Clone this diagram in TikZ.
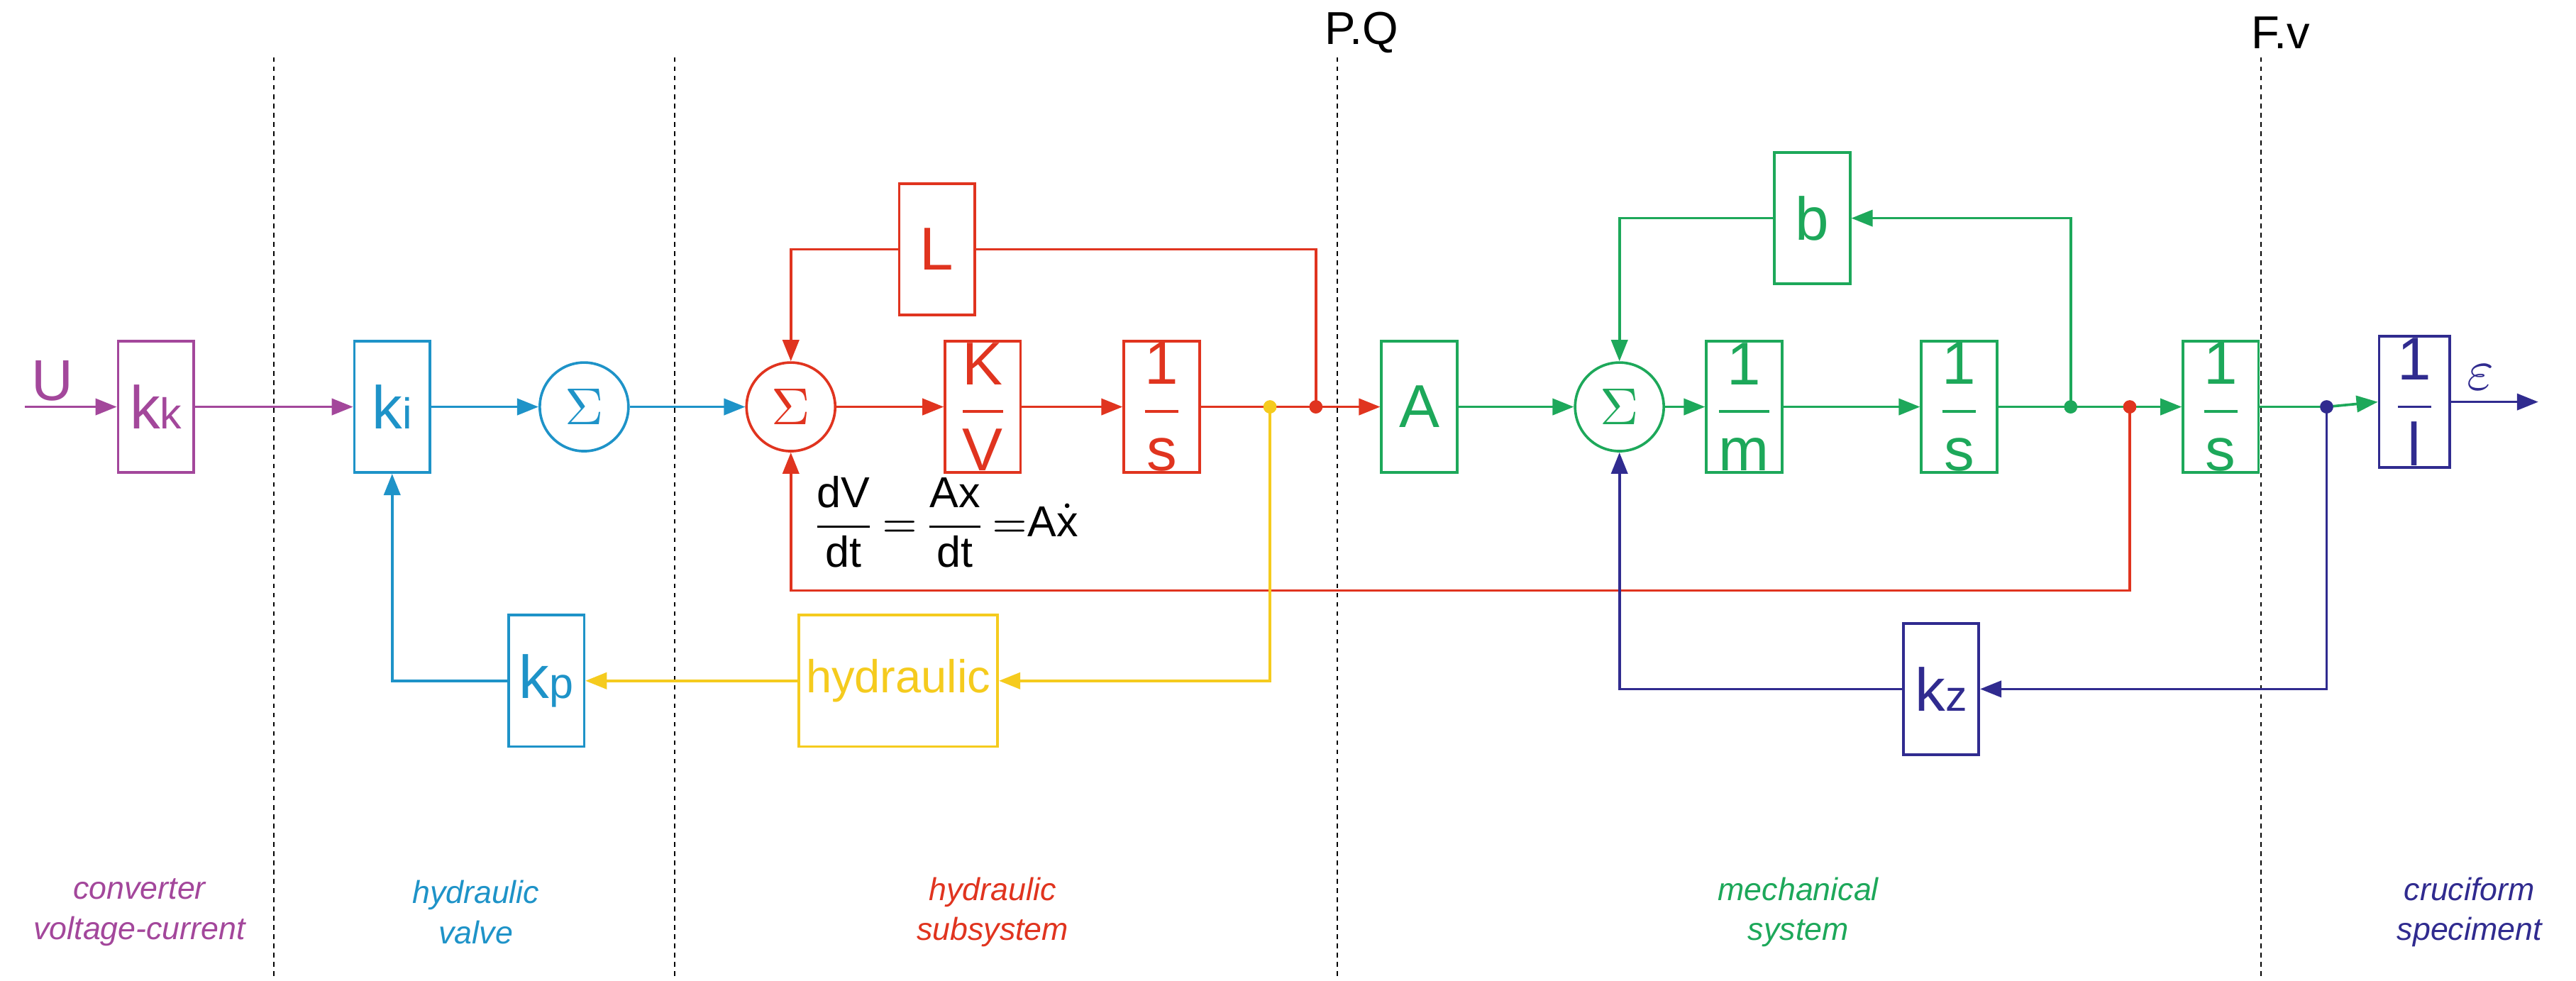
\documentclass[tikz,border=0pt]{standalone}
\usepackage{amsmath}
\usepackage{fontspec}
\setmainfont{Liberation Sans}
\usetikzlibrary{arrows.meta}
\definecolor{cpur}{HTML}{A3479B}
\definecolor{cblu}{HTML}{1E93C8}
\definecolor{cred}{HTML}{E0341F}
\definecolor{cyel}{HTML}{F5CB1E}
\definecolor{cgrn}{HTML}{1DA85A}
\definecolor{cnav}{HTML}{302B8F}
\newcommand{\fr}[2]{$\dfrac{\text{#1}}{\text{#2}}$}
\begin{document}
\begin{tikzpicture}[x=0.01cm,y=-0.01cm,
 box/.style={draw,line width=0.45pt,minimum width=0.46cm,minimum height=0.8cm,inner sep=0pt,font=\fontsize{10.5}{11}\selectfont},
 sum/.style={draw,circle,line width=0.45pt,minimum size=0.54cm,inner sep=0pt,font=\fontsize{9}{10}\selectfont},
 ln/.style={line width=0.45pt},
 ar/.style={line width=0.45pt,-{Triangle[length=0.13cm,width=0.1cm]}},
 dot/.style={circle,fill,inner sep=0pt,minimum size=0.08cm},
 lab/.style={font=\fontsize{5.5}{7}\selectfont\itshape,align=center},
 dsh/.style={line width=0.25pt,dash pattern=on 0.8pt off 0.8pt}]
\useasboundingbox (0,0) rectangle (1570,597.6);
\foreach \x in {167,411,815,1378} \draw[dsh] (\x,35) -- (\x,597.6);
\node[font=\fontsize{8}{9}\selectfont] (pq) at (830,20) {P.Q};
\node[font=\fontsize{8}{9}\selectfont] (fv) at (1390,20) {F.v};
% purple
\coordinate (u0) at (15,248);
\node[text=cpur,font=\fontsize{10}{11}\selectfont] (U) at (32,232) {U};
\node[box,draw=cpur,text=cpur] (kk) at (95,248) {k{\fontsize{7.5}{8}\selectfont k}};
% blue
\node[box,draw=cblu,text=cblu] (ki) at (239,248) {k{\fontsize{7.5}{8}\selectfont i}};
\node[sum,draw=cblu,text=cblu] (s1) at (356,248) {$\Sigma$};
\node[box,draw=cblu,text=cblu] (kp) at (333,415) {k{\fontsize{7.5}{8}\selectfont p}};
% red
\node[sum,draw=cred,text=cred] (s2) at (482,248) {$\Sigma$};
\node[box,draw=cred,text=cred] (kv) at (599,248) {\fr{K}{V}};
\node[box,draw=cred,text=cred] (is1) at (708,248) {\fr{1}{s}};
\node[box,draw=cred,text=cred] (L) at (571,152) {L};
\node[dot,fill=cyel] (dy) at (774,248) {};
\node[dot,fill=cred] (dr) at (802,248) {};
\node[font=\fontsize{7.5}{8}\selectfont,anchor=west,inner sep=0pt] (eq) at (493,318) {$\dfrac{\text{dV}}{\text{dt}}\mkern-3mu=\mkern-3mu\dfrac{\text{Ax}}{\text{dt}}\mkern-3mu=$A$\dot{\text{x}}$};
% yellow
\node[box,draw=cyel,text=cyel,minimum width=1.21cm,font=\fontsize{8}{9}\selectfont] (hy) at (547.5,415) {hydraulic};
% green
\node[box,draw=cgrn,text=cgrn] (A) at (865,248) {A};
\node[sum,draw=cgrn,text=cgrn] (s3) at (987,248) {$\Sigma$};
\node[box,draw=cgrn,text=cgrn] (im) at (1063,248) {\fr{1}{m}};
\node[box,draw=cgrn,text=cgrn] (is2) at (1194,248) {\fr{1}{s}};
\node[box,draw=cgrn,text=cgrn] (b) at (1104.5,133) {b};
\node[dot,fill=cgrn] (dg) at (1262,248) {};
\node[dot,fill=cred] (dr2) at (1298,248) {};
\node[box,draw=cgrn,text=cgrn] (is3) at (1353.5,248) {\fr{1}{s}};
% navy
\node[dot,fill=cnav] (dn) at (1418,248) {};
\node[box,draw=cnav,text=cnav,minimum width=0.43cm] (il) at (1471.5,245) {\fr{1}{l}};
\node[text=cnav,font=\fontsize{10}{11}\selectfont] (eps) at (1512,230) {$\varepsilon$};
\coordinate (eend) at (1547,245);
\node[box,draw=cnav,text=cnav] (kz) at (1183,420) {k{\fontsize{7.5}{8}\selectfont z}};
% connectors
\draw[ar,cpur] (u0) -- (kk.west);
\draw[ar,cpur] (kk.east) -- (ki.west);
\draw[ar,cblu] (ki.east) -- (s1.west);
\draw[ar,cblu] (s1.east) -- (s2.west);
\draw[ar,cblu] (kp.west) -| (ki.south);
\draw[ar,cred] (s2.east) -- (kv.west);
\draw[ar,cred] (kv.east) -- (is1.west);
\draw[ln,cred] (is1.east) -- (dr.center);
\draw[ar,cred] (dr.center) -- (A.west);
\draw[ln,cred] (dr.center) |- (L.east);
\draw[ar,cred] (L.west) -| (s2.north);
\draw[ar,cred] (dr2.center) |- (482,360) -- (s2.south);
\draw[ar,cyel] (dy.center) |- (hy.east);
\draw[ar,cyel] (hy.west) -- (kp.east);
\draw[ar,cgrn] (A.east) -- (s3.west);
\draw[ar,cgrn] (s3.east) -- (im.west);
\draw[ar,cgrn] (im.east) -- (is2.west);
\draw[ln,cgrn] (is2.east) -- (dg.center);
\draw[ar,cgrn] (dg.center) -- (is3.west);
\draw[ar,cgrn] (dg.center) |- (b.east);
\draw[ar,cgrn] (b.west) -| (s3.north);
\draw[ln,cgrn] (is3.east) -- (dn.center);
\draw[ar,cgrn] (dn.center) -- (il.west);
\draw[ar,cnav] (il.east) -- (eend);
\draw[ar,cnav] (dn.center) |- (kz.east);
\draw[ar,cnav] (kz.west) -| (s3.south);
\node[dot,fill=cyel] at (dy) {};
\node[dot,fill=cred] at (dr) {};
\node[dot,fill=cred] at (dr2) {};
\node[dot,fill=cgrn] at (dg) {};
\node[dot,fill=cnav] at (dn) {};
% region labels
\node[lab,text=cpur] (l1) at (85,556) {converter\\voltage-current};
\node[lab,text=cblu] (l2) at (290,556) {hydraulic\\valve};
\node[lab,text=cred] (l3) at (605,556) {hydraulic\\subsystem};
\node[lab,text=cgrn] (l4) at (1096,556) {mechanical\\system};
\node[lab,text=cnav] (l5) at (1505,556) {cruciform\\speciment};
\end{tikzpicture}
\end{document}
